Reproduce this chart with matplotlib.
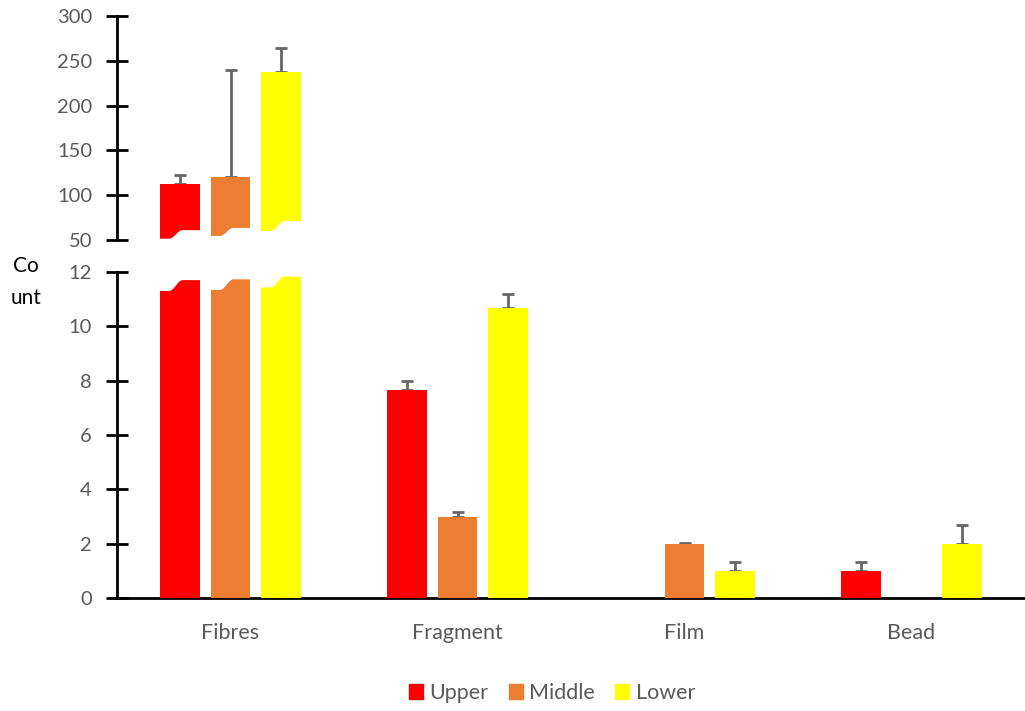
import numpy as np
import matplotlib
matplotlib.use('Agg')
import matplotlib.pyplot as plt
from matplotlib.patches import Polygon, Patch

plt.rcParams['font.family'] = ['Lato', 'DejaVu Sans']

categories = ['Fibres', 'Fragment', 'Film', 'Bead']
series = ['Upper', 'Middle', 'Lower']
upper = [113, 7.65, 0, 1.0]
middle = [120, 2.97, 2.0, 0]
lower = [237, 10.67, 1.0, 2.0]
upper_err = [9, 0.33, 0, 0.33]
middle_err = [120, 0.2, 0.03, 0]
lower_err = [27, 0.53, 0.33, 0.67]

colors = ['#FF0000', '#ED7D31', '#FFFF00']
values = [upper, middle, lower]
errors = [upper_err, middle_err, lower_err]

# break shapes (left/right heights of the wavy cut) for the Fibres bars
top_cut = [(51.5, 61), (54.5, 63.5), (60, 71)]
bot_cut = [(11.3, 11.7), (11.34, 11.73), (11.43, 11.83)]

W, H = 1025, 711
fig = plt.figure(figsize=(W / 100, H / 100), dpi=100)
x0, x1 = 117, 1025
ax_top = fig.add_axes([x0 / W, (H - 240) / H, (x1 - x0) / W, (240 - 16) / H])
ax_bot = fig.add_axes([x0 / W, (H - 598) / H, (x1 - x0) / W, (598 - 272) / H])

x = np.arange(len(categories))
width = 0.176
step = 0.224
grey = '#595959'


def wave(t):
    s = np.clip((t - 0.25) / 0.32, 0, 1)
    return 0.5 - 0.5 * np.cos(np.pi * s)


for ax in (ax_top, ax_bot):
    for i in range(3):
        pos = x + (i - 1) * step
        v = np.array(values[i], dtype=float)
        e = np.array(errors[i], dtype=float)
        ax.bar(pos, v, width, color=colors[i], zorder=3)
        m = v > 0
        ax.errorbar(pos[m], v[m], yerr=[np.zeros(m.sum()), e[m]], fmt='none',
                    ecolor='#666666', elinewidth=2, capsize=4.5, capthick=2, zorder=2)
    ax.set_xlim(-0.5, 3.5)
    for s in ['top', 'right']:
        ax.spines[s].set_visible(False)
    ax.spines['left'].set_linewidth(2)
    ax.tick_params(axis='y', direction='inout', length=16, width=2, colors='black',
                   labelcolor=grey, labelsize=14.5, pad=10)

t = np.linspace(0, 1, 80)
for i in range(3):
    left = x[0] + (i - 1) * step - width / 2 - 0.005
    xs = left + t * (width + 0.01)
    lo, hi = top_cut[i]
    ys = lo + (hi - lo) * wave(t)
    pts = np.column_stack([np.r_[xs, xs[-1], xs[0]], np.r_[ys, 40, 40]])
    ax_top.add_patch(Polygon(pts, closed=True, color='white', zorder=4, lw=0))
    lo, hi = bot_cut[i]
    ys = lo + (hi - lo) * wave(t)
    pts = np.column_stack([np.r_[xs, xs[-1], xs[0]], np.r_[ys, 14, 14]])
    ax_bot.add_patch(Polygon(pts, closed=True, color='white', zorder=4, lw=0))

ax_top.set_ylim(50, 300)
ax_top.set_yticks(np.arange(50, 301, 50))
ax_top.spines['bottom'].set_visible(False)
ax_top.set_xticks([])

ax_bot.set_ylim(0, 12)
ax_bot.set_yticks(np.arange(0, 13, 2))
ax_bot.spines['bottom'].set_linewidth(2)
ax_bot.set_xticks(x)
ax_bot.set_xticklabels(categories, color=grey, fontsize=15.5)
ax_bot.tick_params(axis='x', length=0, pad=18)

fig.text(26 / W, 1 - 282 / H, 'Co\nunt', ha='center', va='center', fontsize=15,
         linespacing=1.75)

handles = [Patch(color=c, label=s) for c, s in zip(colors, series)]
fig.legend(handles=handles, loc='center', bbox_to_anchor=(552 / W, 1 - 693 / H), ncol=3,
           frameon=False, fontsize=15.5, handlelength=0.65, handleheight=0.65,
           handletextpad=0.3, columnspacing=0.95, labelcolor=grey)

fig.savefig('out.png', dpi=100)
